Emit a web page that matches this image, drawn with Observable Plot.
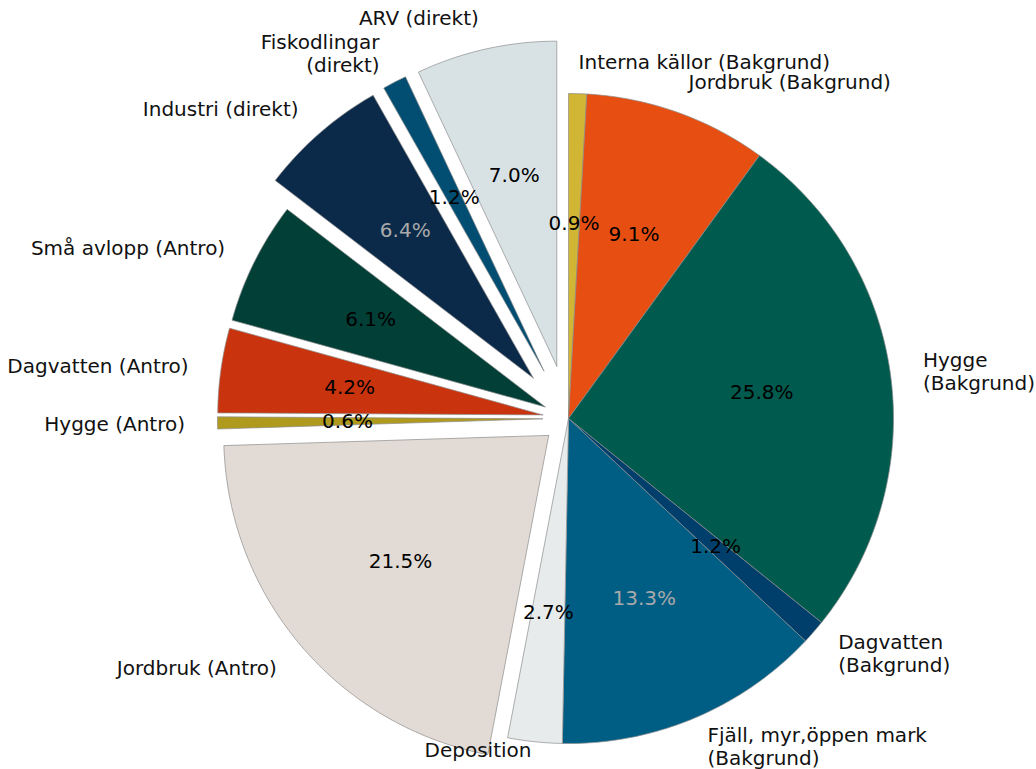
<!DOCTYPE html>
<html><head><meta charset="utf-8">
<script src="https://cdn.jsdelivr.net/npm/d3@7"></script>
<script src="https://cdn.jsdelivr.net/npm/@observablehq/plot@0.6"></script>
<style>
  html,body{margin:0;padding:0;background:#fff;}
  #chart svg{display:block;}
</style>
</head><body><div id="chart"></div>
<script>
// ---- data ----
const categories = [
  "Interna källor (Bakgrund)",
  "Jordbruk (Bakgrund)",
  "Hygge\n(Bakgrund)",
  "Dagvatten\n(Bakgrund)",
  "Fjäll, myr,öppen mark\n(Bakgrund)",
  "Deposition",
  "Jordbruk (Antro)",
  "Hygge (Antro)",
  "Dagvatten (Antro)",
  "Små avlopp (Antro)",
  "Industri (direkt)",
  "Fiskodlingar\n(direkt)",
  "ARV (direkt)"
];
const shares = [0.9, 9.1, 25.8, 1.2, 13.3, 2.7, 21.5, 0.6, 4.2, 6.1, 6.4, 1.2, 7.0];
const groups = ["Bakgrund","Bakgrund","Bakgrund","Bakgrund","Bakgrund","Bakgrund",
                "Antro","Antro","Antro","Antro","direkt","direkt","direkt"];

// ---- styles ----
const palette = ["#d1b535","#e64f11","#005a4d","#003f6b","#005e85","#e7ebec",
                 "#e2dbd5","#b09a1e","#c9340e","#013f37","#0b2a49","#014e72","#d8e2e5"];
const pctInk = ["#000","#000","#000","#000","#a9a9a9","#000",
                "#000","#000","#000","#000","#a9a9a9","#000","#000"];
const explodeByGroup = {Bakgrund: 0, Antro: 0.08, direkt: 0.165};
// small pixel nudges for labels that were moved in the original
const labelNudge = {4: [0, -2], 5: [0, -24]};

// ---- layout ----
const W = 1036, H = 769, CX = 568, CY = 418, R = 325;
const labelDist = 1.1, pctDist = 0.6;

const total = d3.sum(shares);
const polys = [], labelsL = [], labelsR = [], pcts = [];
let cum = 0;
shares.forEach((v, i) => {
  const a0 = cum / total * 2 * Math.PI;
  const a1 = (cum + v) / total * 2 * Math.PI;
  cum += v;
  const mid = (a0 + a1) / 2;
  const ex = explodeByGroup[groups[i]];
  const ox = ex * Math.sin(mid), oy = ex * Math.cos(mid);
  const n = Math.max(3, Math.ceil(v * 4));
  polys.push({id: i, x: ox, y: oy, fill: palette[i]});
  for (let k = 0; k <= n; k++) {
    const a = a0 + (a1 - a0) * k / n;
    polys.push({id: i, x: ox + Math.sin(a), y: oy + Math.cos(a), fill: palette[i]});
  }
  polys.push({id: i, x: ox, y: oy, fill: palette[i]});
  const [ndx, ndy] = labelNudge[i] || [0, 0];
  const lx = ox + labelDist * Math.sin(mid) + ndx / R;
  const ly = oy + labelDist * Math.cos(mid) - ndy / R;
  const lab = {x: lx, y: ly, text: categories[i]};
  (Math.sin(mid) >= 0 ? labelsR : labelsL).push(lab);
  pcts.push({x: ox + pctDist * Math.sin(mid), y: oy + pctDist * Math.cos(mid),
             text: v.toFixed(1) + "%", ink: pctInk[i]});
});

const font = "DejaVu Sans, sans-serif";
const chart = Plot.plot({
  width: W, height: H, margin: 0,
  x: {domain: [-CX / R, (W - CX) / R], axis: null},
  y: {domain: [-(H - CY) / R, CY / R], axis: null},
  color: {type: "identity"},
  style: {background: "#fff", fontFamily: font},
  marks: [
    Plot.line(polys, {x: "x", y: "y", z: "id", fill: "fill", stroke: "#8c8c8c",
                      strokeWidth: 0.7, curve: "linear"}),
    Plot.text(pcts, {x: "x", y: "y", text: "text", fill: "ink", fontSize: 20,
                     fontFamily: font, textAnchor: "middle", lineAnchor: "middle"}),
    Plot.text(labelsR, {x: "x", y: "y", text: "text", fill: "#111", fontSize: 20,
                        fontFamily: font, textAnchor: "start", lineAnchor: "middle", lineHeight: 1.15}),
    Plot.text(labelsL, {x: "x", y: "y", text: "text", fill: "#111", fontSize: 20,
                        fontFamily: font, textAnchor: "end", lineAnchor: "middle", lineHeight: 1.15})
  ]
});
document.getElementById("chart").appendChild(chart);
</script>
</body></html>
